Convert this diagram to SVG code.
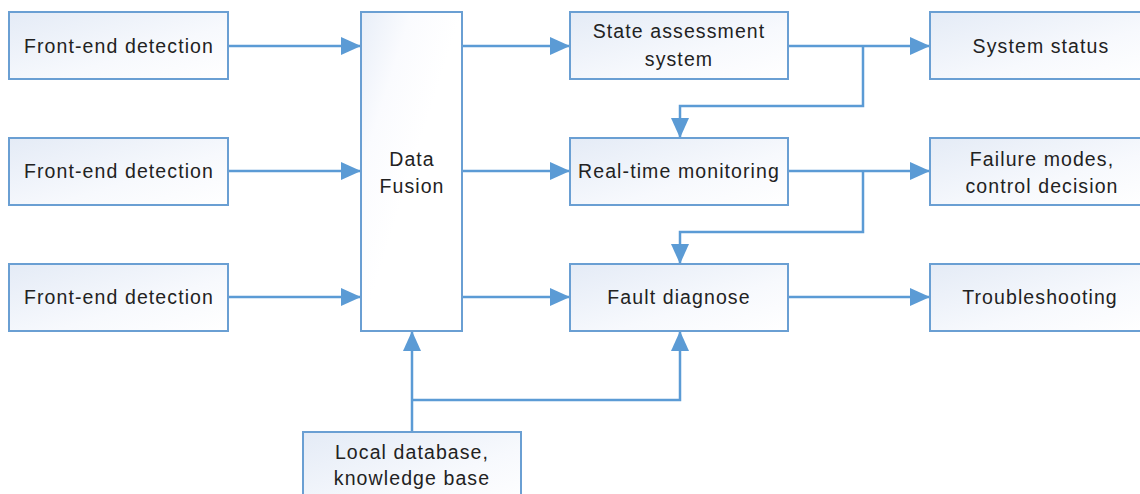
<svg xmlns="http://www.w3.org/2000/svg" width="1140" height="494" viewBox="0 0 1140 494">
  <style>
    .box { stroke: #6a9fd3; stroke-width: 2; fill: url(#boxFill); }
    .tall { fill: url(#tallFill); }
    .lbl { font-family: "Liberation Sans", Arial, sans-serif; font-size: 19.5px; letter-spacing: 1.1px; fill: #222; text-anchor: middle; }
    .wire { fill: none; stroke: #5b9bd5; stroke-width: 2.5; }
  </style>
  <defs>
    <linearGradient id="boxFill" x1="0" y1="0" x2="1" y2="1">
      <stop offset="0" stop-color="#e4ebf6"/>
      <stop offset="0.6" stop-color="#f7f9fd"/>
      <stop offset="1" stop-color="#ffffff"/>
    </linearGradient>
    <linearGradient id="tallFill" x1="0" y1="0" x2="0.5" y2="0.5">
      <stop offset="0" stop-color="#e8eef8"/>
      <stop offset="0.5" stop-color="#fafbfe"/>
      <stop offset="1" stop-color="#ffffff"/>
    </linearGradient>
    <marker id="arrow" markerUnits="userSpaceOnUse" markerWidth="20" markerHeight="18" refX="20" refY="9" orient="auto">
      <path d="M0,0 L20,9 L0,18 Z" fill="#5b9bd5"/>
    </marker>
  </defs>

  <rect width="1140" height="494" fill="#ffffff"/>

  <!-- connectors -->
  <g id="connectors">
    <path class="wire" d="M228,46 H361" marker-end="url(#arrow)"/>
    <path class="wire" d="M228,171 H361" marker-end="url(#arrow)"/>
    <path class="wire" d="M228,297 H361" marker-end="url(#arrow)"/>
    <path class="wire" d="M462,46 H570" marker-end="url(#arrow)"/>
    <path class="wire" d="M462,171 H570" marker-end="url(#arrow)"/>
    <path class="wire" d="M462,297 H570" marker-end="url(#arrow)"/>
    <path class="wire" d="M788,46 H930" marker-end="url(#arrow)"/>
    <path class="wire" d="M863,46 V106 H680 V138" marker-end="url(#arrow)"/>
    <path class="wire" d="M788,171 H930" marker-end="url(#arrow)"/>
    <path class="wire" d="M863,171 V232 H680 V264" marker-end="url(#arrow)"/>
    <path class="wire" d="M788,297 H930" marker-end="url(#arrow)"/>
    <path class="wire" d="M412,432 V331" marker-end="url(#arrow)"/>
    <path class="wire" d="M412,400 H680 V331" marker-end="url(#arrow)"/>
  </g>

  <g id="frontend1">
    <rect class="box" x="9" y="12" width="219" height="67"/>
    <text class="lbl" x="119" y="53">Front-end detection</text>
  </g>
  <g id="frontend2">
    <rect class="box" x="9" y="138" width="219" height="67"/>
    <text class="lbl" x="119" y="178">Front-end detection</text>
  </g>
  <g id="frontend3">
    <rect class="box" x="9" y="264" width="219" height="67"/>
    <text class="lbl" x="119" y="304">Front-end detection</text>
  </g>

  <g id="datafusion">
    <rect class="box tall" x="361" y="12" width="101" height="319"/>
    <text class="lbl" x="412" y="166">Data</text>
    <text class="lbl" x="412" y="193">Fusion</text>
  </g>

  <g id="stateassessment">
    <rect class="box" x="570" y="12" width="218" height="67"/>
    <text class="lbl" x="679" y="38">State assessment</text>
    <text class="lbl" x="679" y="66">system</text>
  </g>
  <g id="realtime">
    <rect class="box" x="570" y="138" width="218" height="67"/>
    <text class="lbl" x="679" y="178">Real-time monitoring</text>
  </g>
  <g id="faultdiagnose">
    <rect class="box" x="570" y="264" width="218" height="67"/>
    <text class="lbl" x="679" y="304">Fault diagnose</text>
  </g>

  <g id="systemstatus">
    <rect class="box" x="930" y="12" width="222" height="67"/>
    <text class="lbl" x="1041" y="53">System status</text>
  </g>
  <g id="failuremodes">
    <rect class="box" x="930" y="138" width="222" height="67"/>
    <text class="lbl" x="1042" y="166">Failure modes,</text>
    <text class="lbl" x="1042" y="193">control decision</text>
  </g>
  <g id="troubleshooting">
    <rect class="box" x="930" y="264" width="222" height="67"/>
    <text class="lbl" x="1040" y="304">Troubleshooting</text>
  </g>

  <g id="localdb">
    <rect class="box" x="303" y="432" width="218" height="80"/>
    <text class="lbl" x="412" y="459">Local database,</text>
    <text class="lbl" x="412" y="485">knowledge base</text>
  </g>
</svg>
